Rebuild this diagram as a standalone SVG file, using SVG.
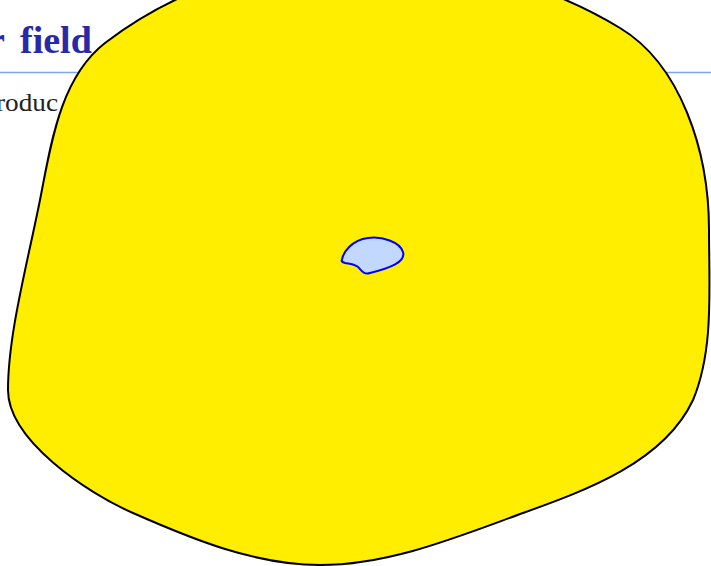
<svg xmlns="http://www.w3.org/2000/svg" width="711" height="566" viewBox="0 0 711 566">
  <style>
    .title { font-family: "Liberation Serif", "DejaVu Serif", serif; font-weight: bold; font-size: 38px; fill: #2929A8; }
    .body { font-family: "Liberation Serif", "DejaVu Serif", serif; font-size: 25px; fill: #222222; }
    .outer { fill: #FFEE00; stroke: #000000; stroke-width: 2; stroke-linejoin: round; }
    .inner { fill: #C2D8FF; stroke: #0000FF; stroke-width: 2; stroke-linejoin: round; }
  </style>
  <rect x="0" y="0" width="711" height="566" fill="#FFFFFF"/>
  <g id="slide-header">
    <text class="title" x="-12" y="53">r <tspan x="20">field</tspan></text>
    <line x1="0" y1="72.5" x2="711" y2="72.5" stroke="#80A8F0" stroke-width="1.6"/>
    <text class="body" x="-4" y="111" textLength="62" lengthAdjust="spacingAndGlyphs">roduc</text>
  </g>
  <g id="outer-region">
    <path class="outer" d="M 370,-40 C 456,-40 546,-17 620,28 C 680,64 709,150 709,230 C 709,289 714,350 693,400 C 664,462 587,490 523,513 C 457,537 390,565 320,565 C 255,565 192,539 133,513 C 87,493 8,440 8,390 C 8,335 27,265 40,200 C 51,144 60,78 105,43 C 190,-22 280,-40 370,-40 Z"/>
  </g>
  <g id="inner-region">
    <path class="inner" d="M 342,260 C 343,252 352,240 368,238 C 382,236 400,242 403,252 C 406,262 390,268 370,273 C 364,275 362,271 359,268 C 356,264 350,264 345,263 C 342,262 341,261 342,260 Z"/>
  </g>
</svg>
